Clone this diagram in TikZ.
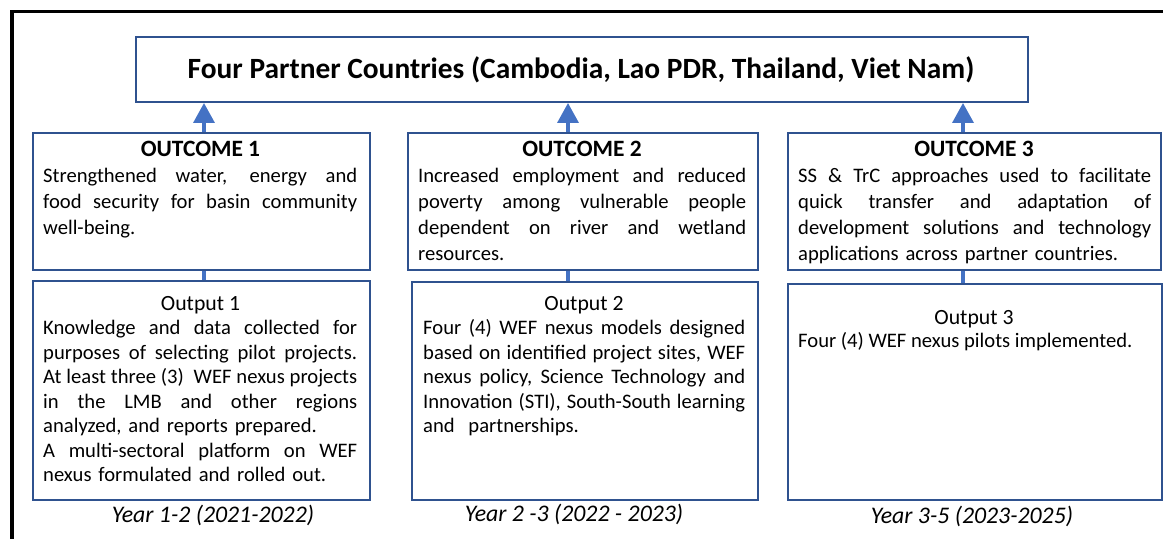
\documentclass[tikz,border=0pt]{standalone}
\usepackage{fontspec}
\setmainfont{Carlito}
\usetikzlibrary{arrows.meta}

\definecolor{boxblue}{HTML}{2F528F}
\definecolor{linkblue}{HTML}{4472C4}

% one justified line of the given width: word spaces share the slack
\newcommand\fullline[2]{\hbox to #1{\spaceskip=\fontdimen2\font plus 1fil\relax
  \xspaceskip=\spaceskip #2}}

\begin{document}
\begin{tikzpicture}[x=1bp,y=-1bp,
  panel/.style={draw=boxblue,line width=2bp,fill=white,inner sep=0pt,anchor=north west},
  link/.style={draw=linkblue,line width=3.5bp},
  uparrow/.style={link,-{Triangle[length=20bp,width=21bp]}},
  titletext/.style={font=\fontsize{29.5}{35}\selectfont\bfseries,anchor=base,inner sep=0pt},
  headtext/.style={font=\fontsize{23.5}{28}\selectfont\bfseries,anchor=base,inner sep=0pt},
  subhead/.style={font=\fontsize{21.8}{26}\selectfont,anchor=base,inner sep=0pt},
  outcomebody/.style={font=\fontsize{20.7}{26}\selectfont,anchor=base west,inner sep=0pt},
  outputbody/.style={font=\fontsize{20.7}{24.5}\selectfont,anchor=base west,inner sep=0pt},
  yeartext/.style={font=\fontsize{23.9}{28}\selectfont\itshape,anchor=base,inner sep=0pt}]

\useasboundingbox (0,0) rectangle (1163,539);
\fill[white] (0,0) rectangle (1163,539);

% outer frame (left and top edges)
\draw[line width=3.5bp,line cap=rect] (11.75,539) -- (11.75,11.75) -- (1163,11.75);

% boxes
\node[panel,minimum width=892bp,minimum height=65bp] (top) at (135,36) {};
\node[panel,minimum width=337bp,minimum height=137bp] (o1) at (32,132) {};
\node[panel,minimum width=350bp,minimum height=137bp] (o2) at (407,132) {};
\node[panel,minimum width=373bp,minimum height=137bp] (o3) at (787,132) {};
\node[panel,minimum width=337bp,minimum height=219bp] (p1) at (32,280) {};
\node[panel,minimum width=346bp,minimum height=218bp] (p2) at (411,281) {};
\node[panel,minimum width=374bp,minimum height=216bp] (p3) at (787,283) {};

% connector columns
\coordinate (c1) at (204,0);
\coordinate (c2) at (568,0);
\coordinate (c3) at (963,0);

\draw[link] (o1.south -| c1) -- (p1.north -| c1);
\draw[link] (o2.south -| c2) -- (p2.north -| c2);
\draw[link] (o3.south -| c3) -- (p3.north -| c3);
\draw[uparrow] (o1.north -| c1) -- (top.south -| c1);
\draw[uparrow] (o2.north -| c2) -- (top.south -| c2);
\draw[uparrow] (o3.north -| c3) -- (top.south -| c3);

% title
\node[titletext] (title) at (581,79) {Four Partner Countries (Cambodia, Lao PDR, Thailand, Viet Nam)};

% outcomes
\node[headtext] (h1) at (200.5,157) {OUTCOME 1};
\node[headtext] (h2) at (582,157) {OUTCOME 2};
\node[headtext] (h3) at (974,157) {OUTCOME 3};

\node[outcomebody,text width=314bp] (b1) at (43,183) {%
\fullline{314bp}{Strengthened water, energy and}
\fullline{314bp}{food security for basin community}
well-being.};

\node[outcomebody,text width=328bp] (b2) at (418,183) {%
\fullline{328bp}{Increased employment and reduced}
\fullline{328bp}{poverty among vulnerable people}
\fullline{328bp}{dependent on river and wetland}
resources.};

\node[outcomebody,text width=353bp] (b3) at (798,183) {%
\fullline{353bp}{SS \& TrC approaches used to facilitate}
\fullline{353bp}{quick transfer and adaptation of}
\fullline{353bp}{development solutions and technology}
applications across partner countries.};

% outputs
\node[subhead] (s1) at (200.5,311) {Output 1};
\node[subhead] (s2) at (584,311) {Output 2};
\node[subhead] (s3) at (974,325) {Output 3};

\node[outputbody,text width=314bp] (q1) at (43,335) {%
\fullline{314bp}{Knowledge and data collected for}
\fullline{314bp}{purposes of selecting pilot projects.}
\fullline{314bp}{At least three (3)\ \ WEF nexus projects}
\fullline{314bp}{in the LMB and other regions}
analyzed, and reports prepared.\par
\fullline{314bp}{A multi-sectoral platform on WEF}
nexus formulated and rolled out.};

\node[outputbody,text width=322bp] (q2) at (423,335) {%
\fullline{322bp}{Four (4) WEF nexus models designed}
\fullline{322bp}{based on identified project sites, WEF}
\fullline{322bp}{nexus policy, Science Technology and}
\fullline{322bp}{Innovation (STI), South-South learning}
and\ \ partnerships.};

\node[outputbody,anchor=base west] (q3) at (798,348) {Four (4) WEF nexus pilots implemented.};

% time frames
\node[yeartext] (y1) at (213,522) {Year 1-2 (2021-2022)};
\node[yeartext] (y2) at (574,521) {Year 2 -3 (2022 - 2023)};
\node[yeartext] (y3) at (972,523) {Year 3-5 (2023-2025)};

\end{tikzpicture}
\end{document}
